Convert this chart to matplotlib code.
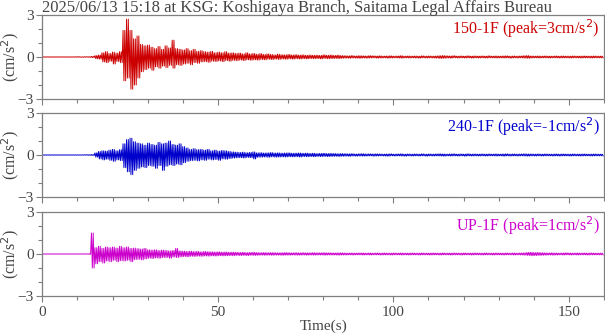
import numpy as np
import matplotlib
matplotlib.use("Agg")
import matplotlib.pyplot as plt
from matplotlib.ticker import MultipleLocator

# ---- data (cm/s^2 in hundredths), one upper and one lower excursion per second ----
title = "2025/06/13 15:18 at KSG: Koshigaya Branch, Saitama Legal Affairs Bureau"
labels = ["150-1F (peak=3cm/s$^2$)", "240-1F (peak=-1cm/s$^2$)", "UP-1F (peak=1cm/s$^2$)"]
colors = ["#cc0000", "#0000cc", "#cc00cc"]

red_hi = ([1,1,1,1,1,1,1,1,1,1,2,1,2,2]
          + [4,10,14,30,38,25,35,28,38]
          + [190,270,190,130,150,90,80,85,70,60,75,55,80,65,120]
          + [60,55,50,60,45,55,40,45,38,35,40,30,35,30,38,28,30,25,28,22,30,22]
          + [25,20,24,18,22,18,15,20,16,15,18,14,16,13,15,12,14,12,13,11,15,12,14,11,13,10]
          + [9,8,10,7,9,8,7,9,8,7, 8,6,7,8,6,7,9,6,7,6, 7,6,8,6,7,6,7,9,10,8,
             7,9,6,7,6,8,6,7,6,7, 6,8,6,7,6,7,8,6,7,6, 7,9,10,7,6,7,6,7,6,6,
             7,6,7,6,6,7,6,6,7,6, 6,7,6,6])
red_lo = ([-1,-1,-1,-1,-1,-1,-1,-1,-1,-1,-1,-2,-1,-2]
          + [-4,-12,-15,-35,-40,-30,-50,-32,-40]
          + [-170,-150,-230,-200,-150,-105,-90,-80,-95,-70,-80,-65,-75,-60,-80]
          + [-55,-60,-50,-45,-55,-40,-45,-35,-33,-38,-30,-32,-28,-33,-25,-30,-24,-26,-22,-25,-20,-23]
          + [-20,-22,-18,-20,-16,-18,-15,-17,-14,-16,-13,-15,-12,-14,-12,-13,-11,-12,-11,-13,-10,-12,-11,-10,-11,-9]
          + [-8,-9,-7,-8,-9,-7,-8,-7,-6,-8, -7,-6,-8,-7,-6,-7,-8,-6,-7,-6, -7,-8,-6,-7,-6,-7,-8,-10,-9,-7,
             -8,-6,-7,-6,-7,-6,-8,-6,-7,-6, -7,-6,-6,-7,-6,-7,-6,-8,-6,-7, -6,-8,-9,-7,-6,-7,-6,-6,-7,-6,
             -6,-7,-6,-6,-7,-6,-6,-7,-6,-6, -7,-6,-6,-6])

blue_hi = ([1,1,1,1,1,1,1,1,1,1,1,1,2,2]
           + [3,15,25,30,28,35,40,30,38]
           + [80,110,120,95,85,80,70,85,75,70,90,80,85,100,75,70,80,60]
           + [50,40,45,38,40,35,40,30,35,28,32,30,25,22,20,18,20,16,18,22,15]
           + [16,14,15,17,14,15,13,14,15,12,13,14,12,13,11,12,10,11,12,10,11,10,9,10]
           + [9,8,9,7,8,9,7,8,7,8, 7,6,7,8,6,7,8,6,7,6, 7,6,8,6,7,6,7,8,7,6,
              7,8,6,7,6,8,6,7,6,7, 6,7,6,7,6,7,8,6,7,6, 7,8,7,7,6,7,6,7,6,6,
              7,6,7,6,6,7,6,6,7,6, 6,7,6,6])
blue_lo = ([-1,-1,-1,-1,-1,-1,-1,-1,-1,-1,-1,-1,-1,-2]
           + [-3,-15,-28,-35,-30,-38,-45,-35,-40]
           + [-90,-120,-140,-110,-95,-85,-90,-75,-80,-95,-75,-110,-80,-70,-75,-65,-70,-55]
           + [-45,-40,-38,-42,-35,-38,-30,-35,-32,-38,-28,-30,-25,-22,-20,-19,-21,-17,-19,-28,-16]
           + [-15,-14,-16,-13,-15,-14,-13,-14,-12,-13,-12,-14,-11,-12,-11,-12,-10,-11,-10,-11,-10,-9,-10,-9]
           + [-8,-9,-7,-8,-7,-8,-7,-6,-8,-7, -6,-7,-8,-6,-7,-6,-7,-8,-6,-7, -6,-7,-6,-8,-6,-7,-6,-7,-8,-6,
              -7,-6,-7,-6,-8,-6,-7,-6,-7,-6, -7,-6,-6,-7,-6,-8,-6,-7,-6,-7, -6,-7,-8,-6,-7,-6,-7,-6,-6,-7,
              -6,-7,-6,-6,-7,-6,-6,-7,-6,-6, -7,-6,-6,-6])

mag_hi = ([1,1,1,1,1,1,1,1,1,1,1,1,1,2]
          + [150,45,55,40,50,45,50,42,55,45,50,40,42,38,35,40,30,28,30,25,28,25,22,25,40,22]
          + [20,18,20,17,18,15,18,16,15,14,15,13,14,12,13,12,11,12,10,11,12]
          + [10,9,10,9,10,9,8,9,10,9,8,9,8,9,8,8,9,8,8,9,8,8,7,8,8]
          + [7,6,7,6,7,7,6,7,6,7, 6,7,6,6,7,6,7,6,6,7, 6,6,7,6,6,7,6,6,7,6,
             6,7,6,6,7,6,6,7,6,6, 7,6,6,7,6,6,7,6,7,6, 7,8,11,12,10,11,9,8,7,8,
             7,6,7,8,7,6,7,6,7,6, 7,6,6,6])
mag_lo = ([-1,-1,-1,-1,-1,-1,-1,-1,-1,-1,-1,-1,-1,-2]
          + [-100,-70,-55,-65,-50,-55,-45,-55,-48,-50,-45,-55,-40,-38,-42,-35,-30,-32,-28,-30,-25,-25,-30,-22,-25,-20]
          + [-18,-20,-16,-17,-15,-16,-14,-15,-13,-14,-12,-13,-12,-11,-12,-10,-11,-10,-11,-9,-10]
          + [-9,-8,-9,-8,-9,-8,-8,-9,-8,-8,-7,-8,-8,-7,-8,-7,-8,-7,-7,-8,-7,-7,-7,-8,-7]
          + [-7,-6,-7,-6,-6,-7,-6,-7,-6,-6, -7,-6,-6,-7,-6,-6,-7,-6,-7,-6, -6,-7,-6,-6,-7,-6,-6,-7,-6,-6,
             -7,-6,-6,-7,-6,-6,-7,-6,-6,-7, -6,-6,-7,-6,-6,-7,-6,-6,-7,-6, -7,-8,-10,-12,-11,-10,-9,-8,-7,-8,
             -7,-6,-7,-6,-7,-6,-7,-6,-6,-7, -6,-6,-6,-6])

x_ticks = [0, 50, 100, 150]
y_ticks = [-3, 0, 3]

# ---- figure ----
plt.rcParams['font.family'] = ['Liberation Serif', 'DejaVu Serif']
fig = plt.figure(figsize=(6.05, 3.34), dpi=100)
W, H = 605.0, 334.0
left, right = 42.3, 604.0
panels = [(15, 99), (113, 197), (212, 296)]
gray = '#7f7f7f'
txtc = '#444444'

series = [(red_hi, red_lo), (blue_hi, blue_lo), (mag_hi, mag_lo)]
for i, ((top, bot), (hi, lo)) in enumerate(zip(panels, series)):
    ax = fig.add_axes([left / W, 1 - bot / H, (right - left) / W, (bot - top) / H])
    hi = np.asarray(hi) / 100.0
    lo = np.asarray(lo) / 100.0
    t = np.arange(len(hi), dtype=float)
    # each second: up, down, up, down excursions
    tt = np.empty(4 * len(t)); vv = np.empty(4 * len(t))
    for j, (off, src) in enumerate([(0.0, hi), (0.25, lo), (0.5, hi), (0.75, lo)]):
        tt[j::4] = t + off
        vv[j::4] = src
    ax.plot(tt, vv, color=colors[i], lw=0.7)
    ax.set_xlim(0, 160)
    ax.set_ylim(-3, 3)
    ax.set_xticks(x_ticks)
    ax.xaxis.set_minor_locator(MultipleLocator(10))
    ax.set_yticks(y_ticks)
    ax.yaxis.set_minor_locator(MultipleLocator(1))
    ax.tick_params(which='major', direction='out', length=4, width=0.8, color=gray,
                   labelcolor=txtc, labelsize=11, pad=2)
    ax.tick_params(axis='x', which='major', pad=3)
    ax.tick_params(which='minor', direction='out', length=3, width=0.8, color=gray)
    for s in ax.spines.values():
        s.set_color(gray)
        s.set_linewidth(0.9)
    if i < 2:
        ax.tick_params(axis='x', labelbottom=False)
    else:
        ax.set_xlabel('Time(s)', color=txtc, fontsize=11, va='center')
        ax.xaxis.set_label_coords(0.5, (bot - 326.0) / (bot - top))
    ax.set_ylabel('(cm/s$^2$)', color=txtc, fontsize=11.5, va='center')
    ax.yaxis.set_label_coords((10 - left) / (right - left), 0.5)
    ax.text(0.992, 0.97, labels[i], transform=ax.transAxes, ha='right', va='top',
            color=colors[i], fontsize=11.5)

fig.text(left / W, 1 - 0.5 / H, title, ha='left', va='top', color=txtc, fontsize=12)
fig.savefig('out.png', dpi=100)
